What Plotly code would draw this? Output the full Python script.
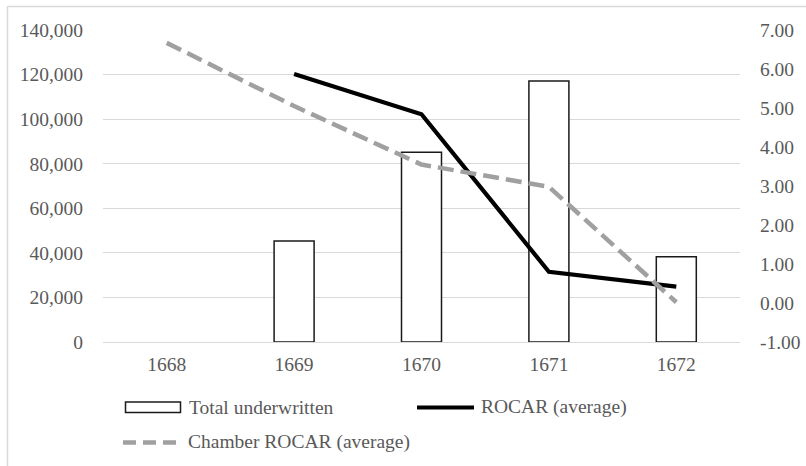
import plotly.graph_objects as go

years = ["1668", "1669", "1670", "1671", "1672"]
total_underwritten = [None, 45300, 85100, 117100, 38200]
rocar_avg = [None, 5.87, 4.84, 0.80, 0.42]
chamber_rocar_avg = [6.67, 5.05, 3.55, 2.98, 0.02]

left_ticks = [0, 20000, 40000, 60000, 80000, 100000, 120000, 140000]
right_ticks = [-1, 0, 1, 2, 3, 4, 5, 6, 7]
right_tick_labels = [f"{v:.2f}" for v in right_ticks]

W, H = 806, 466
L, R, T, B = 103, 740, 30, 342
FONT = "Liberation Serif"
FS = 19.5
TXT = "#595959"
GRID = "#d9d9d9"
GRAY_LINE = "#a0a0a0"
CLEAR = "rgba(0,0,0,0)"


def px(x):
    return (x - L) / (R - L)


def py(y):
    return (B - y) / (B - T)


fig = go.Figure()
fig.add_trace(go.Bar(
    x=years, y=total_underwritten, name="Total underwritten",
    marker=dict(color="white", line=dict(color="#1a1a1a", width=1.5)),
    showlegend=False, yaxis="y",
))
fig.add_trace(go.Scatter(
    x=years, y=rocar_avg, name="ROCAR (average)", mode="lines",
    line=dict(color="black", width=4.2), showlegend=False, yaxis="y2",
))
fig.add_trace(go.Scatter(
    x=years, y=chamber_rocar_avg, name="Chamber ROCAR (average)", mode="lines",
    line=dict(color=GRAY_LINE, width=4.5, dash="16px,7px"), showlegend=False, yaxis="y2",
))

shapes = []
shapes.append(dict(type="line", xref="paper", yref="paper", x0=px(7.5), x1=px(830),
                   y0=py(6.5), y1=py(6.5), line=dict(color=GRID, width=1.5)))
shapes.append(dict(type="line", xref="paper", yref="paper", x0=px(7.5), x1=px(7.5),
                   y0=py(6.5), y1=py(480), line=dict(color=GRID, width=1.5)))
shapes.append(dict(type="rect", xref="paper", yref="paper", x0=px(125.5), x1=px(180.5),
                   y0=py(402), y1=py(412.5), fillcolor="white",
                   line=dict(color="#1a1a1a", width=1.5)))
shapes.append(dict(type="line", xref="paper", yref="paper", x0=px(417), x1=px(474),
                   y0=py(407.5), y1=py(407.5), line=dict(color="black", width=4.2)))
shapes.append(dict(type="line", xref="paper", yref="paper", x0=px(123), x1=px(177),
                   y0=py(442.5), y1=py(442.5),
                   line=dict(color=GRAY_LINE, width=4.5, dash="13px,7px")))

annotations = []
for text, x, y in [("Total underwritten", 187, 407), ("ROCAR (average)", 479, 407),
                   ("Chamber ROCAR (average)", 186, 442)]:
    annotations.append(dict(text=text, xref="paper", yref="paper", x=px(x), y=py(y),
                            xanchor="left", yanchor="middle", showarrow=False,
                            font=dict(family=FONT, size=FS, color=TXT)))

fig.update_layout(
    template="none",
    width=W, height=H,
    margin=dict(l=L, r=W - R, t=T, b=H - B, pad=0, autoexpand=False),
    paper_bgcolor="white", plot_bgcolor="white",
    font=dict(family=FONT, size=FS, color=TXT),
    bargap=0.686,
    showlegend=False,
    shapes=shapes,
    annotations=annotations,
    xaxis=dict(
        type="category", range=[-0.5, 4.5], showgrid=False, showline=False,
        zeroline=False, automargin=False,
        ticks="outside", ticklen=5, tickcolor=CLEAR,
        tickfont=dict(family=FONT, size=FS, color=TXT),
    ),
    yaxis=dict(
        range=[0, 140000], tickvals=left_ticks, tickformat=",", automargin=False,
        showgrid=True, gridcolor=GRID, gridwidth=1.3,
        zeroline=True, zerolinecolor=GRID, zerolinewidth=1.3,
        showline=False, ticks="outside", ticklen=15, tickcolor=CLEAR,
        tickfont=dict(family=FONT, size=FS, color=TXT),
    ),
    yaxis2=dict(
        range=[-1, 7], tickvals=right_ticks, ticktext=right_tick_labels, automargin=False,
        overlaying="y", side="right", showgrid=False, zeroline=False,
        showline=False, ticks="outside", ticklen=15, tickcolor=CLEAR,
        tickfont=dict(family=FONT, size=FS, color=TXT),
    ),
)

fig.write_html("out.html")
